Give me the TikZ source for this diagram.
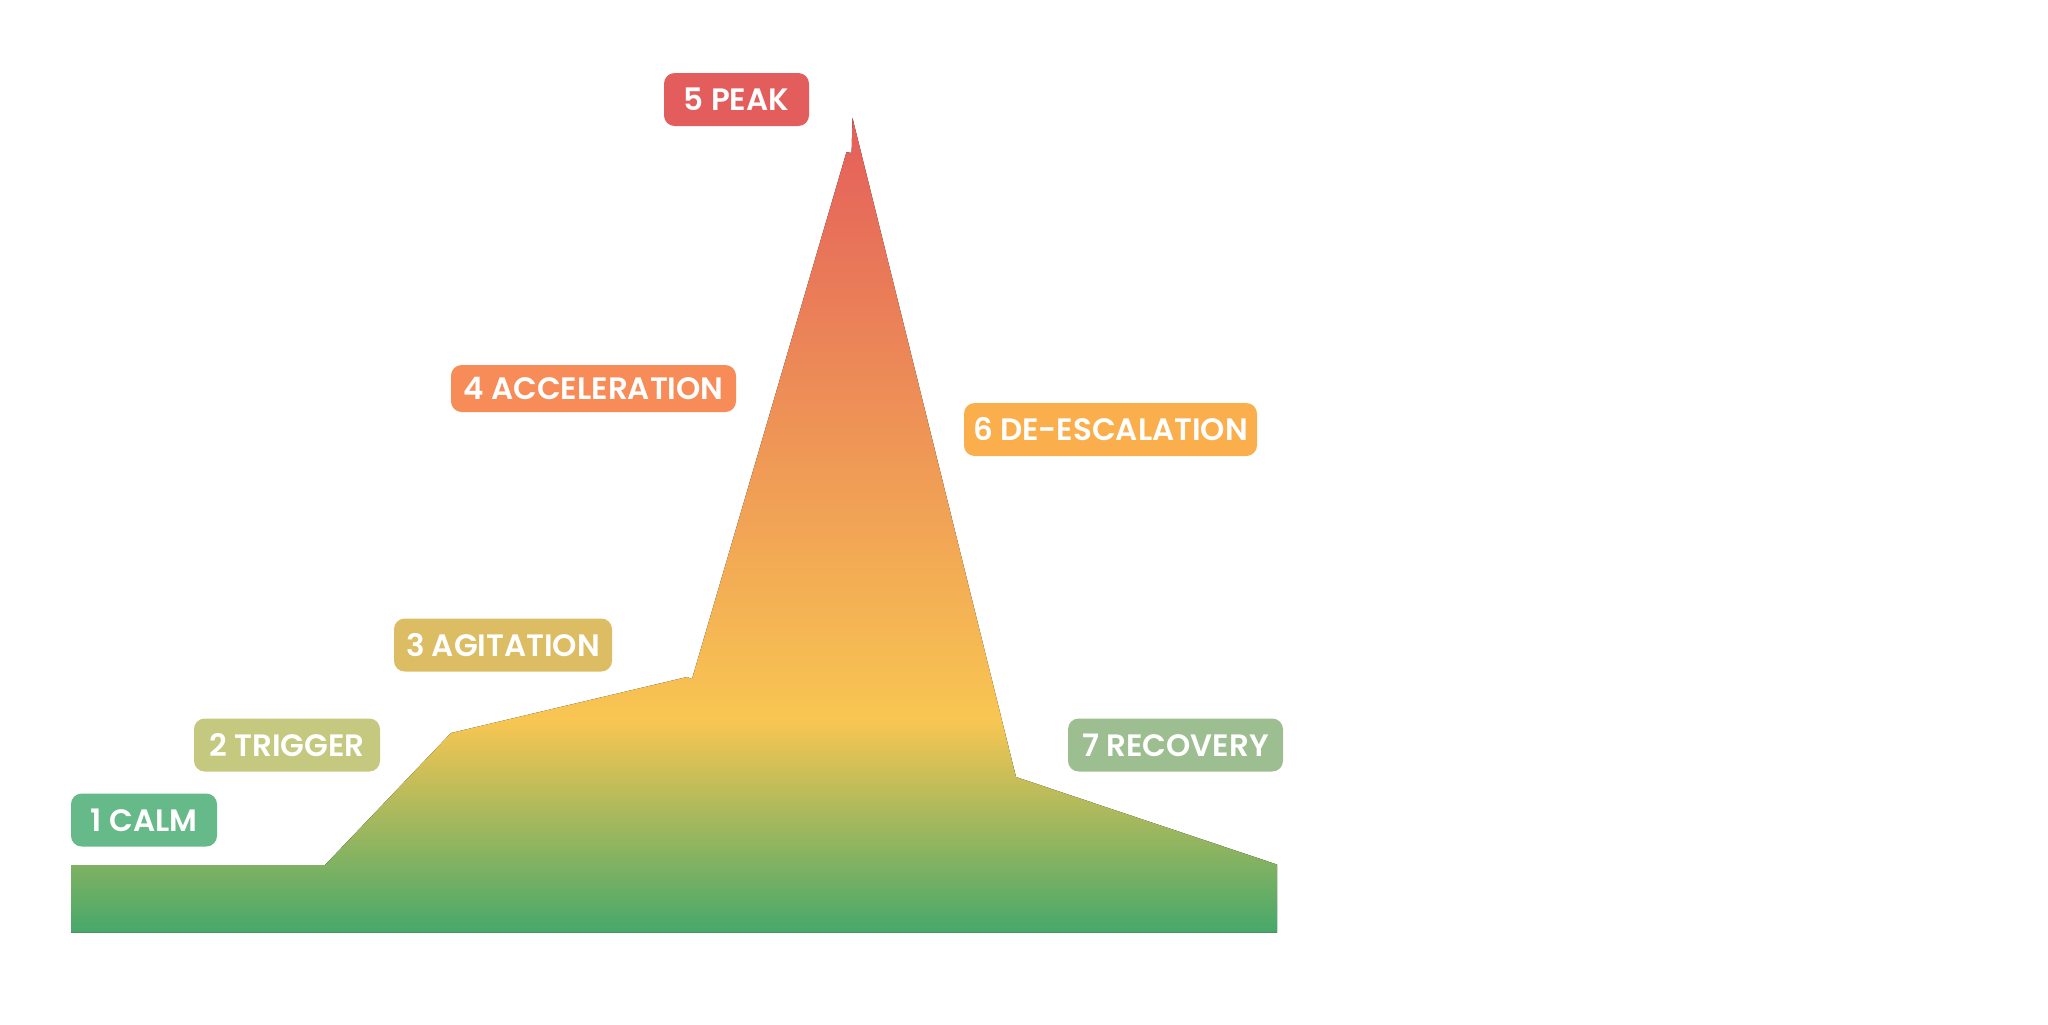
\documentclass[tikz,border=0pt]{standalone}
\usepackage{fontspec}
\setmainfont{Poppins}[BoldFont={Poppins SemiBold}]
\definecolor{cg}{HTML}{46A86A}
\definecolor{cy}{HTML}{F8C652}
\definecolor{cr}{HTML}{E45E5B}
\definecolor{lcalm}{HTML}{66BA89}
\definecolor{ltrig}{HTML}{C5C97F}
\definecolor{lagit}{HTML}{DDBD63}
\definecolor{lacc}{HTML}{F78C59}
\definecolor{lpeak}{HTML}{E35D5D}
\definecolor{ldesc}{HTML}{FBAE4C}
\definecolor{lrec}{HTML}{9DBE90}
\pgfdeclareverticalshading{peakgrad}{100bp}{color(0bp)=(cg); color(25bp)=(cg); color(38bp)=(cy); color(75bp)=(cr); color(100bp)=(cr)}
\tikzset{
  phase/.style={rectangle, rounded corners=4pt, inner sep=0pt, text=white,
    font=\bfseries\fontsize{11.6}{14}\selectfont},
}
\begin{document}
\begin{tikzpicture}[x=0.375pt,y=-0.375pt]
\useasboundingbox (0,0) rectangle (2048,1024);
\fill[shading=peakgrad] (71,932.6) -- (71,865) -- (325,865) -- (451,733) -- (687,677) -- (692,679) -- (846.5,152) -- (851.6,153) -- (852.5,118) -- (1016,777) -- (1277,864.5) -- (1277,932.6) -- cycle;
\node[phase, fill=lcalm, minimum width=146*0.375pt, minimum height=53*0.375pt] (calm) at (144,820) {1 CALM};
\node[phase, fill=ltrig, minimum width=186*0.375pt, minimum height=53*0.375pt] (trigger) at (287,745) {2 TRIGGER};
\node[phase, fill=lagit, minimum width=218*0.375pt, minimum height=53*0.375pt] (agitation) at (503,645) {3 AGITATION};
\node[phase, fill=lacc, minimum width=285*0.375pt, minimum height=47*0.375pt] (accel) at (593.5,388.5) {4 ACCELERATION};
\node[phase, fill=lpeak, minimum width=145*0.375pt, minimum height=53*0.375pt] (peak) at (736.5,99.5) {5 PEAK};
\node[phase, fill=ldesc, minimum width=293*0.375pt, minimum height=53*0.375pt] (deesc) at (1110.5,429.5) {6 DE-ESCALATION};
\node[phase, fill=lrec, minimum width=215*0.375pt, minimum height=53*0.375pt] (recovery) at (1175.5,745) {7 RECOVERY};
\end{tikzpicture}
\end{document}
